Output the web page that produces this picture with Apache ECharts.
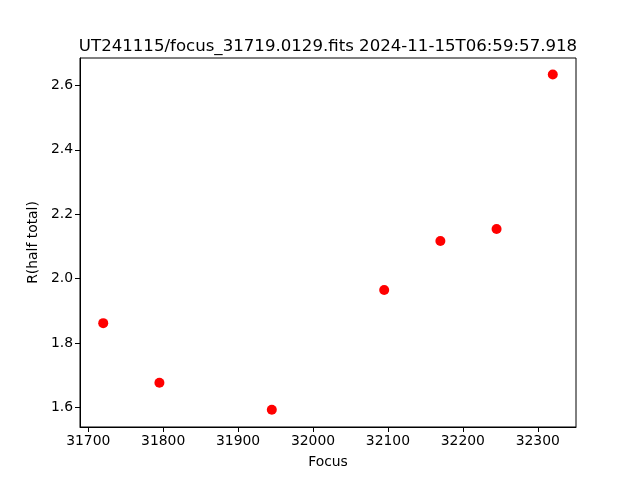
<!DOCTYPE html>
<html>
<head>
<meta charset="utf-8">
<script src="https://cdn.jsdelivr.net/npm/echarts@6/dist/echarts.min.js"></script>
<style>html,body{margin:0;padding:0;background:#fff}#c{width:640px;height:480px}</style>
</head>
<body>
<div id="c"></div>
<script>
const titleText = 'UT241115/focus_31719.0129.fits 2024-11-15T06:59:57.918';
const focus = [31720, 31795, 31945, 32095, 32170, 32245, 32320];
const rHalf = [1.862, 1.677, 1.593, 1.965, 2.117, 2.154, 2.634];
const xTicks = [31700, 31800, 31900, 32000, 32100, 32200, 32300];
const yTicks = [1.6, 1.8, 2.0, 2.2, 2.4, 2.6];
const xLabel = 'Focus';
const yLabel = 'R(half total)';

const font = 'DejaVu Sans';
const chart = echarts.init(document.getElementById('c'), null, {renderer: 'canvas'});
chart.setOption({
  animation: false,
  backgroundColor: '#fff',
  title: {
    text: titleText, left: 323, top: 33, textAlign: 'center',
    textStyle: {fontFamily: font, fontSize: 16.6, fontWeight: 'normal', color: '#000'}
  },
  grid: {left: 80, right: 64, top: 58, bottom: 53, show: true, borderColor: '#000', borderWidth: 1, containLabel: false},
  xAxis: {
    type: 'value', min: 31689, max: 32351,
    name: xLabel, nameLocation: 'middle', nameGap: 28,
    nameTextStyle: {fontFamily: font, fontSize: 13.9, color: '#000'},
    axisLine: {show: true, lineStyle: {color: '#000', width: 1}},
    axisTick: {show: true, length: 5, customValues: xTicks, lineStyle: {color: '#000'}},
    axisLabel: {customValues: xTicks, fontFamily: font, fontSize: 13.9, color: '#000', margin: 7,
      formatter: v => String(v)},
    splitLine: {show: false}
  },
  yAxis: {
    type: 'value', min: 1.5396, max: 2.685,
    name: yLabel, nameLocation: 'middle', nameGap: 36, nameRotate: 90,
    nameTextStyle: {fontFamily: font, fontSize: 13.9, color: '#000'},
    axisLine: {show: true, lineStyle: {color: '#000', width: 1}},
    axisTick: {show: true, length: 5, customValues: yTicks, lineStyle: {color: '#000'}},
    axisLabel: {customValues: yTicks, fontFamily: font, fontSize: 13.9, color: '#000', margin: 7,
      formatter: v => v.toFixed(1)},
    splitLine: {show: false}
  },
  series: [{
    type: 'scatter',
    data: focus.map((f, i) => [f, rHalf[i]]),
    symbolSize: 10,
    itemStyle: {color: '#ff0000', opacity: 1}
  }]
});
</script>
</body>
</html>
